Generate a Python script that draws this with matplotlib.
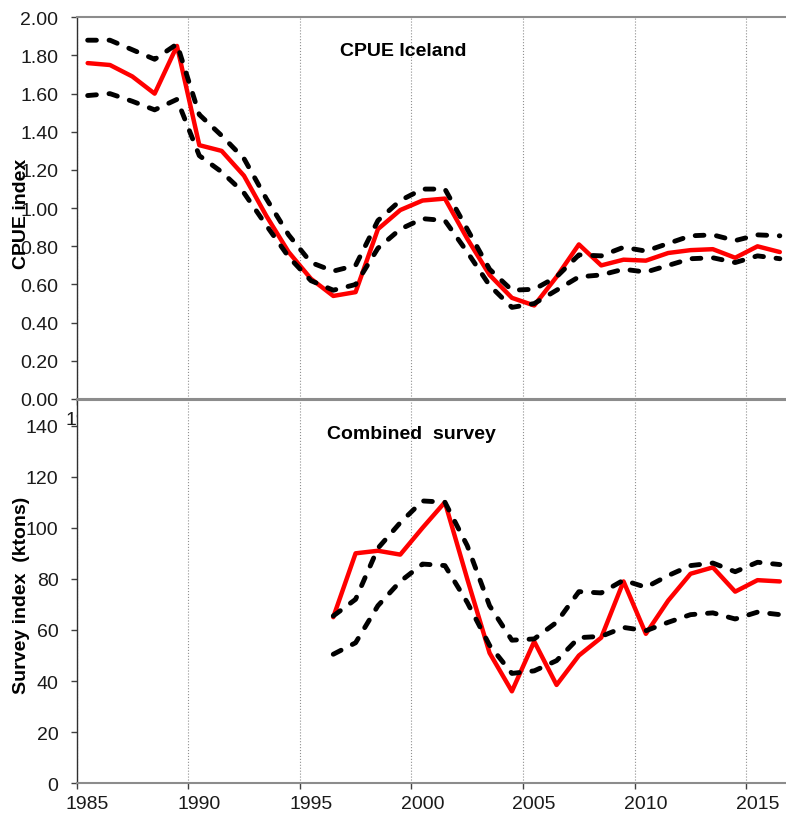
import numpy as np
import matplotlib
matplotlib.use("Agg")
from matplotlib import pyplot as plt
from matplotlib.ticker import FixedLocator, NullFormatter

plt.rcParams['font.family'] = ['Liberation Sans', 'DejaVu Sans']

# data
years = np.arange(1985, 2017)
cpue = [1.76, 1.75, 1.69, 1.60, 1.85, 1.33, 1.30, 1.17, 0.96, 0.77, 0.63,
        0.54, 0.56, 0.89, 0.99, 1.04, 1.05, 0.84, 0.65, 0.53, 0.49, 0.64,
        0.81, 0.70, 0.73, 0.725, 0.765, 0.78, 0.785, 0.74, 0.80, 0.77]
cpue_hi = [1.88, 1.88, 1.83, 1.78, 1.86, 1.49, 1.38, 1.26, 1.05, 0.86, 0.715,
           0.67, 0.70, 0.935, 1.04, 1.10, 1.10, 0.89, 0.68, 0.57, 0.575, 0.64,
           0.755, 0.75, 0.795, 0.775, 0.815, 0.855, 0.86, 0.83, 0.86, 0.855]
cpue_lo = [1.59, 1.60, 1.56, 1.515, 1.57, 1.275, 1.19, 1.08, 0.91, 0.745, 0.62,
           0.57, 0.60, 0.79, 0.89, 0.945, 0.935, 0.77, 0.595, 0.48, 0.50, 0.57,
           0.64, 0.65, 0.68, 0.665, 0.70, 0.735, 0.74, 0.715, 0.75, 0.735]

survey_years = np.arange(1996, 2017)
survey = [65, 90, 91, 89.5, 100, 110, 80, 51, 36, 55.5, 38.5, 50, 57, 79,
          58.5, 71.5, 82, 84.5, 75, 79.5, 79]
survey_hi = [65.5, 72, 92, 102, 110.5, 110, 93, 69.5, 56, 56.5, 63, 75, 74.5,
             79.5, 76.7, 81.3, 85.2, 86.2, 82.8, 86.5, 85.6]
survey_lo = [50.5, 55, 69.5, 79, 85.8, 85.2, 70.8, 54, 43, 44, 48, 57, 57.5,
             61, 59.7, 63, 66, 66.7, 64.3, 67, 66]

tick_years = [1985, 1990, 1995, 2000, 2005, 2010, 2015]
cpue_ticks = [0.0, 0.2, 0.4, 0.6, 0.8, 1.0, 1.2, 1.4, 1.6, 1.8, 2.0]
survey_ticks = [0, 20, 40, 60, 80, 100, 120, 140]

W, H = 786, 820
fig = plt.figure(figsize=(W / 100, H / 100), dpi=100)

left = 76.5 / W
width = (791 - 76.5) / W
ax1 = fig.add_axes([left, (H - 400) / H, width, (400 - 18.3) / H])
ax2 = fig.add_axes([left, (H - 784.3) / H, width, (784.3 - 401) / H])

red = dict(color='#ff0000', lw=3.2, solid_joinstyle='round', solid_capstyle='round')
dash = dict(color='black', lw=3.5, dashes=(1.8, 2.6), dash_capstyle='round')


def style(ax):
    ax.set_xlim(1985, 2017)
    ax.xaxis.set_major_locator(FixedLocator(tick_years))
    ax.xaxis.set_major_formatter(NullFormatter())
    ax.xaxis.set_minor_locator(FixedLocator([y + 0.5 for y in tick_years]))
    ax.set_xticklabels([str(y) for y in tick_years], minor=True)
    ax.tick_params(axis='x', which='major', direction='out', length=4,
                   width=1, color='#404040')
    ax.tick_params(axis='x', which='minor', length=0, pad=8.5,
                   labelsize=14, labelcolor='#1a1a1a')
    ax.tick_params(axis='y', direction='out', length=4, width=1,
                   color='#404040', labelsize=14, labelcolor='#1a1a1a', pad=9)
    ax.grid(axis='x', which='major', linestyle=':', color='#909090', lw=0.8)
    ax.spines['right'].set_visible(False)
    ax.spines['left'].set_color('#303030')
    ax.spines['left'].set_linewidth(1.0)
    for s in ('top', 'bottom'):
        ax.spines[s].set_color('#8c8c8c')
        ax.spines[s].set_linewidth(1.5)


# CPUE panel
ax1.plot(years + 0.5, cpue, **red)
ax1.plot(years + 0.5, cpue_hi, **dash)
ax1.plot(years + 0.5, cpue_lo, **dash)
ax1.set_ylim(0, 2.0)
ax1.set_yticks(cpue_ticks)
ax1.set_yticklabels(['%.2f' % v for v in cpue_ticks])
style(ax1)

# survey panel, drawn over the lower edge of the CPUE panel
ax2.set_facecolor('white')
ax2.plot(survey_years + 0.5, survey, **red)
ax2.plot(survey_years + 0.5, survey_hi, **dash)
ax2.plot(survey_years + 0.5, survey_lo, **dash)
ax2.set_ylim(0, 150)
ax2.set_yticks(survey_ticks)
style(ax2)

fig.text(403 / W, 1 - 51.7 / H, 'CPUE Iceland', fontsize=14, fontweight='bold',
         ha='center', va='center')
fig.text(411.7 / W, 1 - 435 / H, 'Combined  survey', fontsize=14,
         fontweight='bold', ha='center', va='center')
fig.text(22 / W, 1 - 214 / H, 'CPUE index', fontsize=14, fontweight='bold',
         rotation=90, ha='center', va='center')
fig.text(22 / W, 1 - 595 / H, 'Survey index  (ktons)', fontsize=14,
         fontweight='bold', rotation=90, ha='center', va='center')

fig.savefig('out.png', dpi=100)
